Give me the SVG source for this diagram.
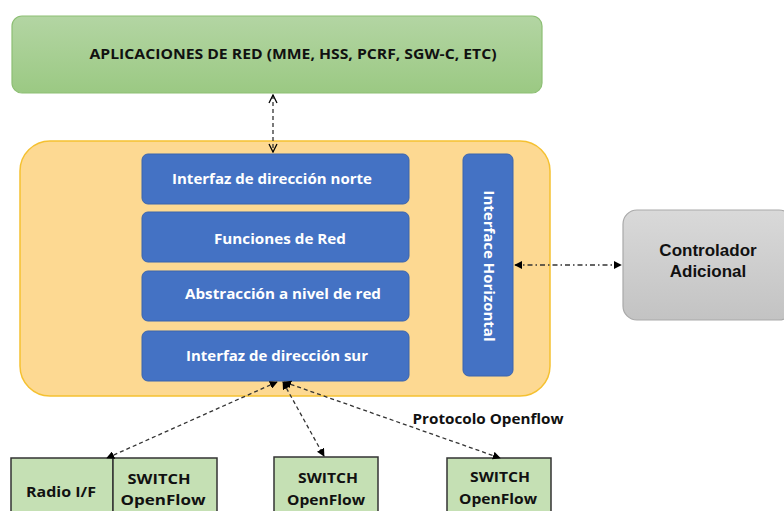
<svg xmlns="http://www.w3.org/2000/svg" width="784" height="511" viewBox="0 0 784 511">
<style>
.t{font-family:"Open Sans","Liberation Sans",sans-serif;font-weight:bold;}
.blue{fill:#4472c4;stroke:#3b64ad;stroke-width:1;}
.wt{fill:#ffffff;font-size:14px;text-anchor:middle;}
.sw{fill:#c5e0b4;stroke:#333333;stroke-width:1.5;}
.bt{fill:#111111;font-size:14px;text-anchor:middle;}
.dash{stroke:#333333;stroke-width:1.3;stroke-dasharray:4 3;fill:none;}
</style>
<defs>
<linearGradient id="gGreen" x1="0" y1="0" x2="0" y2="1"><stop offset="0" stop-color="#b3d5a3"/><stop offset="1" stop-color="#9bc983"/></linearGradient>
<linearGradient id="gGray" x1="0" y1="0" x2="0" y2="1"><stop offset="0" stop-color="#d9d9d9"/><stop offset="1" stop-color="#c3c3c3"/></linearGradient>
<marker id="ah" viewBox="0 0 10 10" refX="9" refY="5" markerWidth="8" markerHeight="8" orient="auto-start-reverse" markerUnits="userSpaceOnUse"><path d="M0,0 L10,5 L0,10 z" fill="#000"/></marker>
<marker id="ao" viewBox="0 0 10 10" refX="9" refY="5" markerWidth="10" markerHeight="10" orient="auto-start-reverse" markerUnits="userSpaceOnUse"><path d="M1,1 L9,5 L1,9" fill="none" stroke="#000" stroke-width="1.3"/></marker>
</defs>
<rect width="784" height="511" fill="#ffffff"/>

<g id="apps">
<rect x="12" y="16" width="530" height="77" rx="10" fill="url(#gGreen)" stroke="#8dbf74" stroke-width="1.2"/>
<text class="t" x="293" y="59" font-size="14" fill="#111" text-anchor="middle" textLength="407" lengthAdjust="spacingAndGlyphs">APLICACIONES DE RED (MME, HSS, PCRF, SGW-C, ETC)</text>
</g>

<g id="sdn-controller">
<rect x="20" y="141" width="530" height="255" rx="30" fill="#fdd992" stroke="#f5c131" stroke-width="1.5"/>
</g>

<g id="northbound">
<rect class="blue" x="142" y="154" width="267" height="50" rx="6"/>
<text class="t wt" x="272" y="184" textLength="200" lengthAdjust="spacingAndGlyphs">Interfaz de dirección norte</text>
</g>
<g id="functions">
<rect class="blue" x="142" y="212" width="267" height="50" rx="6"/>
<text class="t wt" x="280" y="244" textLength="132" lengthAdjust="spacingAndGlyphs">Funciones de Red</text>
</g>
<g id="abstraction">
<rect class="blue" x="142" y="271" width="267" height="50" rx="6"/>
<text class="t wt" x="283" y="299" textLength="196" lengthAdjust="spacingAndGlyphs">Abstracción a nivel de red</text>
</g>
<g id="southbound">
<rect class="blue" x="142" y="331" width="267" height="50" rx="6"/>
<text class="t wt" x="277" y="361" textLength="182" lengthAdjust="spacingAndGlyphs">Interfaz de dirección sur</text>
</g>
<g id="horizontal">
<rect class="blue" x="463" y="154" width="50" height="222" rx="6"/>
<text class="t wt" transform="translate(484,266) rotate(90)" x="0" y="0" textLength="151" lengthAdjust="spacingAndGlyphs">Interface Horizontal</text>
</g>

<g id="additional">
<rect x="623" y="210" width="170" height="110" rx="14" fill="url(#gGray)" stroke="#a9a9a9" stroke-width="1.2"/>
<text font-family="'Liberation Sans',Arial,sans-serif" font-weight="bold" font-size="17" fill="#111" text-anchor="middle" x="708" y="256">Controlador</text>
<text font-family="'Liberation Sans',Arial,sans-serif" font-weight="bold" font-size="17" fill="#111" text-anchor="middle" x="708" y="277">Adicional</text>
</g>

<g id="radio-switch">
<rect class="sw" x="11" y="458" width="102" height="60"/>
<rect class="sw" x="113" y="458" width="104" height="60"/>
<text class="t bt" x="61" y="497" textLength="70" lengthAdjust="spacingAndGlyphs">Radio I/F</text>
<text class="t bt" x="159" y="484" textLength="63" lengthAdjust="spacingAndGlyphs">SWITCH</text>
<text class="t bt" x="163" y="505" textLength="85" lengthAdjust="spacingAndGlyphs">OpenFlow</text>
</g>
<g id="switch2">
<rect class="sw" x="274" y="457" width="104" height="60"/>
<text class="t bt" x="328" y="483" textLength="60" lengthAdjust="spacingAndGlyphs">SWITCH</text>
<text class="t bt" x="326" y="505" textLength="78" lengthAdjust="spacingAndGlyphs">OpenFlow</text>
</g>
<g id="switch3">
<rect class="sw" x="447" y="458" width="104" height="60"/>
<text class="t bt" x="500" y="482" textLength="60" lengthAdjust="spacingAndGlyphs">SWITCH</text>
<text class="t bt" x="498" y="504" textLength="78" lengthAdjust="spacingAndGlyphs">OpenFlow</text>
</g>

<g id="connectors">
<line class="dash" x1="273" y1="95" x2="273" y2="152" marker-start="url(#ao)" marker-end="url(#ao)"/>
<line x1="515" y1="265" x2="621" y2="265" stroke="#333" stroke-width="1.3" stroke-dasharray="5 3 1.5 3" marker-start="url(#ah)" marker-end="url(#ah)"/>
<line class="dash" x1="277" y1="382" x2="107" y2="458" marker-start="url(#ah)" marker-end="url(#ah)"/>
<line class="dash" x1="283" y1="382" x2="324" y2="456" marker-start="url(#ah)" marker-end="url(#ah)"/>
<line class="dash" x1="284" y1="382" x2="500" y2="458" marker-start="url(#ah)" marker-end="url(#ah)"/>
<text class="t" x="488" y="424" font-size="14" fill="#111" text-anchor="middle" textLength="151" lengthAdjust="spacingAndGlyphs">Protocolo Openflow</text>
</g>
</svg>
